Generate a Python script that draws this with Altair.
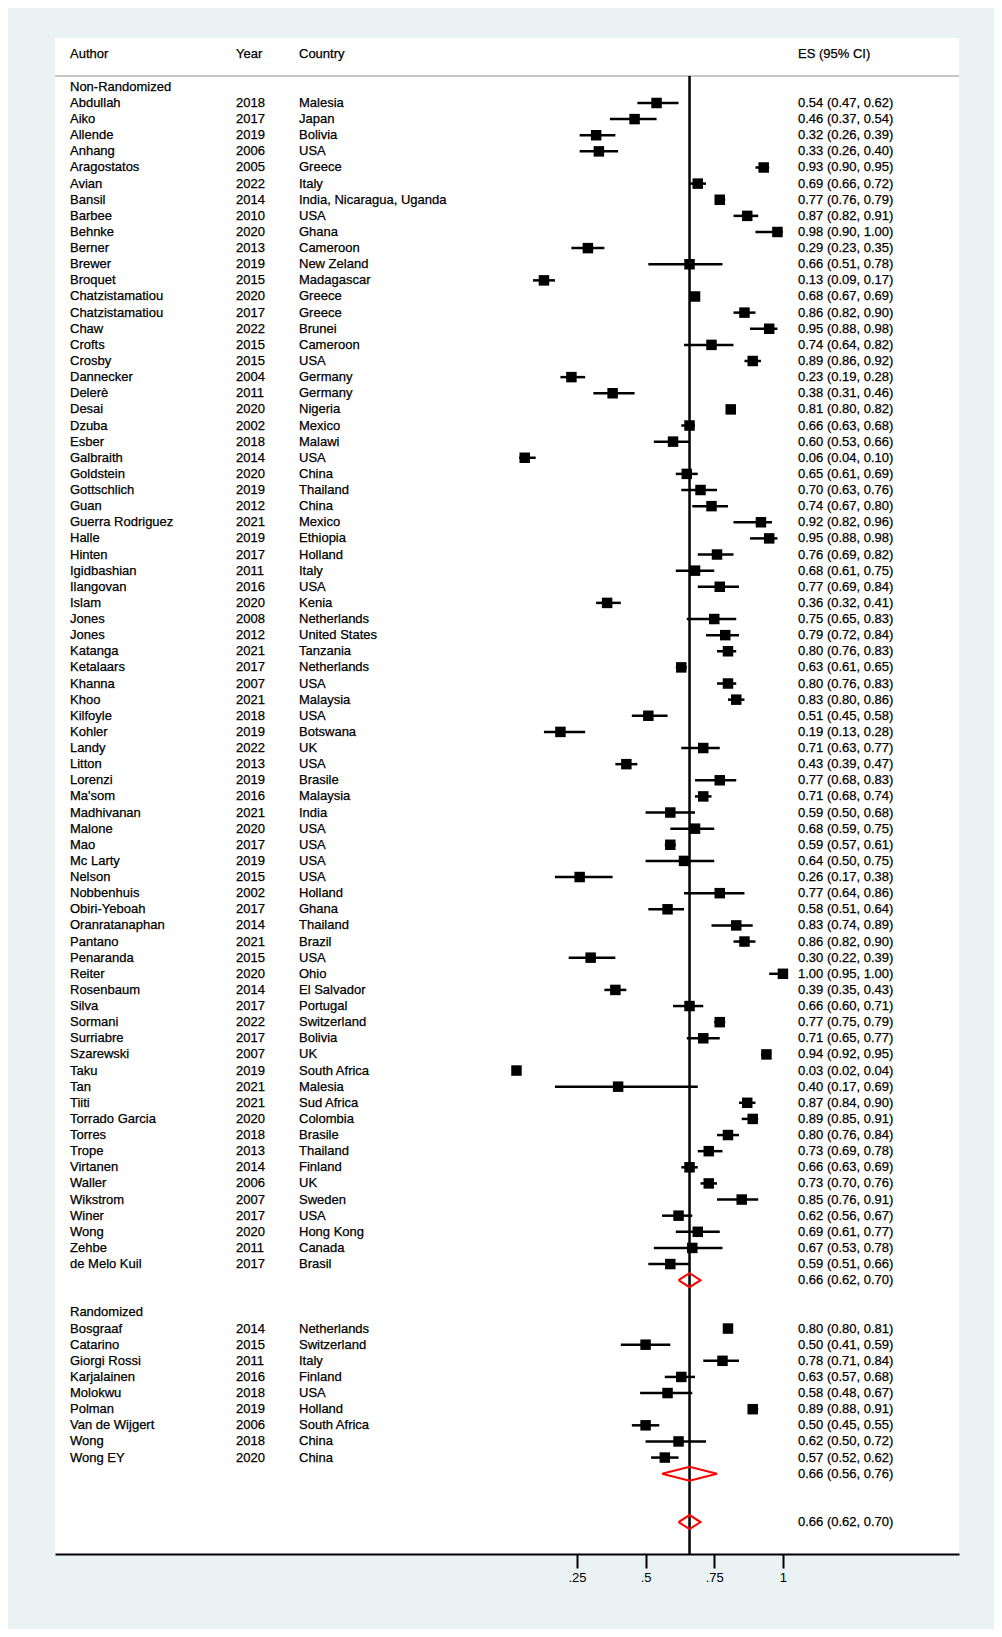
import altair as alt
import pandas as pd

# ---------------- data ----------------
nr_authors = ["Abdullah", "Aiko", "Allende", "Anhang", "Aragostatos", "Avian", "Bansil", "Barbee",
              "Behnke", "Berner", "Brewer", "Broquet", "Chatzistamatiou", "Chatzistamatiou", "Chaw",
              "Crofts", "Crosby", "Dannecker", "Delerè", "Desai", "Dzuba", "Esber", "Galbraith",
              "Goldstein", "Gottschlich", "Guan", "Guerra Rodriguez", "Halle", "Hinten", "Igidbashian",
              "Ilangovan", "Islam", "Jones", "Jones", "Katanga", "Ketalaars", "Khanna", "Khoo",
              "Kilfoyle", "Kohler", "Landy", "Litton", "Lorenzi", "Ma'som", "Madhivanan", "Malone",
              "Mao", "Mc Larty", "Nelson", "Nobbenhuis", "Obiri-Yeboah", "Oranratanaphan", "Pantano",
              "Penaranda", "Reiter", "Rosenbaum", "Silva", "Sormani", "Surriabre", "Szarewski", "Taku",
              "Tan", "Tiiti", "Torrado Garcia", "Torres", "Trope", "Virtanen", "Waller", "Wikstrom",
              "Winer", "Wong", "Zehbe", "de Melo Kuil"]
nr_years = [2018, 2017, 2019, 2006, 2005, 2022, 2014, 2010, 2020, 2013, 2019, 2015, 2020, 2017, 2022,
            2015, 2015, 2004, 2011, 2020, 2002, 2018, 2014, 2020, 2019, 2012, 2021, 2019, 2017, 2011,
            2016, 2020, 2008, 2012, 2021, 2017, 2007, 2021, 2018, 2019, 2022, 2013, 2019, 2016, 2021,
            2020, 2017, 2019, 2015, 2002, 2017, 2014, 2021, 2015, 2020, 2014, 2017, 2022, 2017, 2007,
            2019, 2021, 2021, 2020, 2018, 2013, 2014, 2006, 2007, 2017, 2020, 2011, 2017]
nr_countries = ["Malesia", "Japan", "Bolivia", "USA", "Greece", "Italy", "India, Nicaragua, Uganda", "USA",
                "Ghana", "Cameroon", "New Zeland", "Madagascar", "Greece", "Greece", "Brunei",
                "Cameroon", "USA", "Germany", "Germany", "Nigeria", "Mexico", "Malawi", "USA",
                "China", "Thailand", "China", "Mexico", "Ethiopia", "Holland", "Italy",
                "USA", "Kenia", "Netherlands", "United States", "Tanzania", "Netherlands", "USA", "Malaysia",
                "USA", "Botswana", "UK", "USA", "Brasile", "Malaysia", "India", "USA",
                "USA", "USA", "USA", "Holland", "Ghana", "Thailand", "Brazil",
                "USA", "Ohio", "El Salvador", "Portugal", "Switzerland", "Bolivia", "UK", "South Africa",
                "Malesia", "Sud Africa", "Colombia", "Brasile", "Thailand", "Finland", "UK", "Sweden",
                "USA", "Hong Kong", "Canada", "Brasil"]
nr_es = [0.54, 0.46, 0.32, 0.33, 0.93, 0.69, 0.77, 0.87, 0.98, 0.29, 0.66, 0.13, 0.68, 0.86, 0.95,
         0.74, 0.89, 0.23, 0.38, 0.81, 0.66, 0.60, 0.06, 0.65, 0.70, 0.74, 0.92, 0.95, 0.76, 0.68,
         0.77, 0.36, 0.75, 0.79, 0.80, 0.63, 0.80, 0.83, 0.51, 0.19, 0.71, 0.43, 0.77, 0.71, 0.59,
         0.68, 0.59, 0.64, 0.26, 0.77, 0.58, 0.83, 0.86, 0.30, 1.00, 0.39, 0.66, 0.77, 0.71, 0.94,
         0.03, 0.40, 0.87, 0.89, 0.80, 0.73, 0.66, 0.73, 0.85, 0.62, 0.69, 0.67, 0.59]
nr_lo = [0.47, 0.37, 0.26, 0.26, 0.90, 0.66, 0.76, 0.82, 0.90, 0.23, 0.51, 0.09, 0.67, 0.82, 0.88,
         0.64, 0.86, 0.19, 0.31, 0.80, 0.63, 0.53, 0.04, 0.61, 0.63, 0.67, 0.82, 0.88, 0.69, 0.61,
         0.69, 0.32, 0.65, 0.72, 0.76, 0.61, 0.76, 0.80, 0.45, 0.13, 0.63, 0.39, 0.68, 0.68, 0.50,
         0.59, 0.57, 0.50, 0.17, 0.64, 0.51, 0.74, 0.82, 0.22, 0.95, 0.35, 0.60, 0.75, 0.65, 0.92,
         0.02, 0.17, 0.84, 0.85, 0.76, 0.69, 0.63, 0.70, 0.76, 0.56, 0.61, 0.53, 0.51]
nr_hi = [0.62, 0.54, 0.39, 0.40, 0.95, 0.72, 0.79, 0.91, 1.00, 0.35, 0.78, 0.17, 0.69, 0.90, 0.98,
         0.82, 0.92, 0.28, 0.46, 0.82, 0.68, 0.66, 0.10, 0.69, 0.76, 0.80, 0.96, 0.98, 0.82, 0.75,
         0.84, 0.41, 0.83, 0.84, 0.83, 0.65, 0.83, 0.86, 0.58, 0.28, 0.77, 0.47, 0.83, 0.74, 0.68,
         0.75, 0.61, 0.75, 0.38, 0.86, 0.64, 0.89, 0.90, 0.39, 1.00, 0.43, 0.71, 0.79, 0.77, 0.95,
         0.04, 0.69, 0.90, 0.91, 0.84, 0.78, 0.69, 0.76, 0.91, 0.67, 0.77, 0.78, 0.66]

r_authors = ["Bosgraaf", "Catarino", "Giorgi Rossi", "Karjalainen", "Molokwu", "Polman",
             "Van de Wijgert", "Wong", "Wong EY"]
r_years = [2014, 2015, 2011, 2016, 2018, 2019, 2006, 2018, 2020]
r_countries = ["Netherlands", "Switzerland", "Italy", "Finland", "USA", "Holland", "South Africa",
               "China", "China"]
r_es = [0.80, 0.50, 0.78, 0.63, 0.58, 0.89, 0.50, 0.62, 0.57]
r_lo = [0.80, 0.41, 0.71, 0.57, 0.48, 0.88, 0.45, 0.50, 0.52]
r_hi = [0.81, 0.59, 0.84, 0.68, 0.67, 0.91, 0.55, 0.72, 0.62]

group_labels = ["Non-Randomized", "Randomized"]
pooled_es = [0.66, 0.66, 0.66]   # non-randomized subtotal, randomized subtotal, overall
pooled_lo = [0.62, 0.56, 0.62]
pooled_hi = [0.70, 0.76, 0.70]
axis_ticks = [0.25, 0.5, 0.75, 1.0]

# ---------------- build tables ----------------
def fmt(e, l, h):
    return f"{e:.2f} ({l:.2f}, {h:.2f})"

studies, groups, pooled = [], [], []
row = -1
groups.append({"row": row, "label": group_labels[0]})
row += 1
for a, y, c, e, l, h in zip(nr_authors, nr_years, nr_countries, nr_es, nr_lo, nr_hi):
    studies.append({"row": row, "author": a, "year": str(y), "country": c, "es": e, "lo": l, "hi": h,
                    "txt": fmt(e, l, h)})
    row += 1
pooled.append({"row": row, "es": pooled_es[0], "lo": pooled_lo[0], "hi": pooled_hi[0]})
row += 2
groups.append({"row": row, "label": group_labels[1]})
row += 1
for a, y, c, e, l, h in zip(r_authors, r_years, r_countries, r_es, r_lo, r_hi):
    studies.append({"row": row, "author": a, "year": str(y), "country": c, "es": e, "lo": l, "hi": h,
                    "txt": fmt(e, l, h)})
    row += 1
pooled.append({"row": row, "es": pooled_es[1], "lo": pooled_lo[1], "hi": pooled_hi[1]})
row += 3
pooled.append({"row": row, "es": pooled_es[2], "lo": pooled_lo[2], "hi": pooled_hi[2]})

sdf = pd.DataFrame(studies)
gdf = pd.DataFrame(groups)
pdf = pd.DataFrame(pooled)
pdf["txt"] = [fmt(e, l, h) for e, l, h in zip(pdf.es, pdf.lo, pdf.hi)]

HALF = 0.435  # half diamond height in row units
verts = []
for gi, p in pdf.iterrows():
    pts = [(p.lo, p.row), (p.es, p.row - HALF), (p.hi, p.row), (p.es, p.row + HALF), (p.lo, p.row)]
    for k, (vx, vy) in enumerate(pts):
        verts.append({"grp": gi, "ord": k, "dx": vx, "dy": vy})
vdf = pd.DataFrame(verts)

# ---------------- scales ----------------
W, H = 904, 1516
FONT = "Liberation Sans"
FS = 13
xscale = alt.Scale(domain=[-1.650, 1.641], nice=False, zero=False)
yscale = alt.Scale(domain=[-4.03, 89.98], reverse=True, nice=False, zero=False)
xaxis = alt.Axis(values=axis_ticks, grid=False, title=None, domainColor="black", domainWidth=2,
                 tickColor="black", tickWidth=2, tickSize=14, labelFontSize=FS, labelFont=FONT,
                 labelColor="black", labelPadding=3,
                 labelExpr="datum.value == 1 ? '1' : replace(format(datum.value, '.2~f'), '0.', '.')")


def X(field, **kw):
    return alt.X(field, scale=xscale, axis=xaxis, title=None, **kw)


def Y(field):
    return alt.Y(field, scale=yscale, axis=None, title=None)


base = alt.Chart(sdf)

ci = base.mark_rule(color="black", strokeWidth=2.5).encode(x=X("lo:Q"), x2="hi:Q", y=Y("row:Q"))
sq = base.mark_point(shape="square", filled=True, size=110, color="black", opacity=1).encode(
    x=X("es:Q"), y=Y("row:Q"))

refline = alt.Chart(pdf.tail(1)).mark_rule(color="black", strokeWidth=2.5).encode(
    x=X("es:Q"), y=alt.value(38), y2=alt.value(H))

diam = alt.Chart(vdf).mark_line(color="red", strokeWidth=2).encode(
    x=X("dx:Q"), y=Y("dy:Q"), detail="grp:N", order="ord:Q")

hline = alt.Chart(pd.DataFrame({"a": [0]})).mark_rule(color="#c6c6c6", strokeWidth=2).encode(
    x=alt.value(0), x2=alt.value(W), y=alt.value(38))


def col_text(df, field, px):
    return alt.Chart(df).mark_text(align="left", baseline="middle", font=FONT, fontSize=FS,
                                   color="black", stroke="black", strokeWidth=0.25).encode(
        x=alt.value(px), y=Y("row:Q"), text=f"{field}:N")


def header(label, px):
    return alt.Chart(pd.DataFrame({"a": [0]})).mark_text(
        align="left", baseline="middle", font=FONT, fontSize=FS, color="black", text=label,
        stroke="black", strokeWidth=0.25
    ).encode(x=alt.value(px), y=alt.value(16))


AX, YX, CX, EX = 15, 181, 244, 743

layers = [
    hline,
    header("Author", AX), header("Year", YX), header("Country", CX), header("ES (95% CI)", EX),
    refline, ci, sq, diam,
    col_text(gdf, "label", AX),
    col_text(sdf, "author", AX), col_text(sdf, "year", YX), col_text(sdf, "country", CX),
    col_text(sdf, "txt", EX), col_text(pdf, "txt", EX),
]

chart = alt.layer(*layers).properties(
    width=W, height=H,
    autosize=alt.AutoSizeParams(type="none"),
    padding={"left": 47, "top": 30, "right": 35, "bottom": 75},
    background="#eaf2f3",
).configure_view(fill="white", strokeWidth=0)

chart.save("out.html", embed_options={"renderer": "svg", "actions": False})
